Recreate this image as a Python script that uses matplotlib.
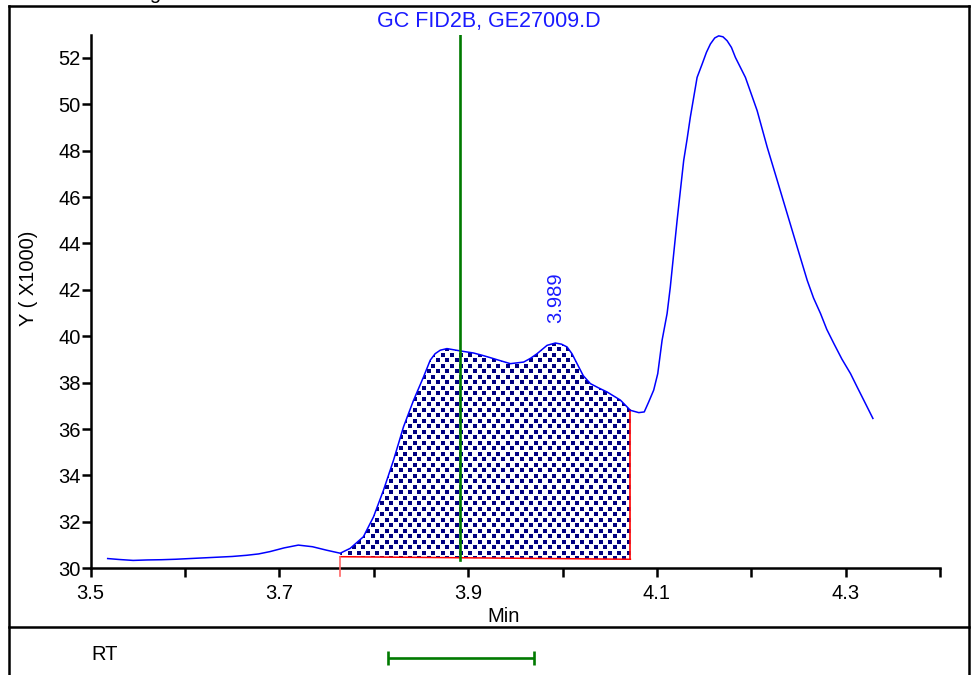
import numpy as np
import matplotlib.pyplot as plt
from matplotlib.lines import Line2D

plt.rcParams['font.family'] = ['Liberation Sans', 'DejaVu Sans']

# chromatogram trace (min, counts x1000)
time = [3.518, 3.530, 3.545, 3.560, 3.575, 3.590, 3.605, 3.620, 3.635, 3.650,
        3.665, 3.678, 3.690, 3.705, 3.720, 3.735, 3.750, 3.7644, 3.775, 3.789,
        3.7997, 3.8103, 3.8209, 3.8315, 3.8421, 3.8527, 3.8598, 3.8650, 3.8704,
        3.8775, 3.8916, 3.9057, 3.9150, 3.9234, 3.9340, 3.9447, 3.9588, 3.9660,
        3.973, 3.9836, 3.9924, 3.9990, 4.0048, 4.0100, 4.0154, 4.0220, 4.0295,
        4.0380, 4.0472, 4.0613, 4.0719, 4.0808, 4.0866, 4.0913, 4.0966, 4.1009,
        4.1055, 4.1108, 4.1142, 4.1178, 4.1214, 4.1249, 4.1284, 4.1320, 4.1354,
        4.1426, 4.148, 4.1525, 4.1567, 4.1613, 4.1655, 4.1700, 4.1744, 4.1790,
        4.1832, 4.1938, 4.2062, 4.2169, 4.2275, 4.2381, 4.2487, 4.2593, 4.2660,
        4.2734, 4.2800, 4.2875, 4.2960, 4.3052, 4.3120, 4.3193, 4.3289]
signal = [30.42, 30.38, 30.34, 30.36, 30.37, 30.39, 30.42, 30.45, 30.48, 30.51,
          30.56, 30.62, 30.72, 30.88, 31.00, 30.93, 30.78, 30.65, 30.86, 31.36,
          32.22, 33.37, 34.66, 36.10, 37.24, 38.25, 38.97, 39.25, 39.40,
          39.47, 39.37, 39.28, 39.18, 39.08, 38.95, 38.82, 38.89, 39.05,
          39.25, 39.61, 39.71, 39.66, 39.54, 39.25, 38.82, 38.30, 37.96,
          37.78, 37.60, 37.25, 36.81, 36.71, 36.74, 37.17, 37.68, 38.39,
          39.83, 40.98, 42.12, 43.56, 44.99, 46.29, 47.58, 48.50, 49.44,
          51.16, 51.74, 52.24, 52.60, 52.86, 52.95, 52.91, 52.74, 52.45,
          52.02, 51.16, 49.73, 48.15, 46.72, 45.28, 43.84, 42.41, 41.65,
          40.98, 40.30, 39.69, 39.02, 38.39, 37.83, 37.24, 36.46]

# integration baseline
bl_time = [3.7644, 4.0719]
bl_level = [30.50, 30.39]

rt_mark = 3.8916
rt_window = [3.8146, 3.9694]
peak_rt = 3.9924
peak_label = '3.989'
title = 'GC FID2B, GE27009.D'

xticks = [3.5, 3.6, 3.7, 3.8, 3.9, 4.0, 4.1, 4.2, 4.3, 4.4]
xticklabels = ['3.5', '', '3.7', '', '3.9', '', '4.1', '', '4.3', '']
yticks = list(range(30, 53, 2))

W, H = 971, 675
fig = plt.figure(figsize=(W / 100, H / 100), dpi=100)
left, right = 90.7 / W, 940 / W
ax = fig.add_axes([left, 1 - 568.3 / H, right - left, (568.3 - 34.7) / H])

t = np.array(time)
s = np.array(signal)
ax.plot(t, s, color='#0000ff', lw=1.1, zorder=4)

# dotted area under the integrated peak
sel = (t >= bl_time[0]) & (t <= bl_time[1])
px = list(t[sel]) + [bl_time[1], bl_time[0]]
py = list(s[sel]) + [bl_level[1], bl_level[0]]
poly = ax.fill(px, py, facecolor='white', edgecolor='none', zorder=1)[0]
dx, dy = 0.00986, 0.2368
gx, gy = [], []
for i, yy in enumerate(np.arange(30.2, 40.2, dy)):
    for xx in np.arange(bl_time[0] + (dx / 2 if i % 2 else 0), bl_time[1], dx):
        gx.append(xx)
        gy.append(yy)
dots = ax.scatter(gx, gy, marker='s', s=6.0, c='#000080', linewidths=0, zorder=2,
                  antialiased=False)
dots.set_clip_path(poly)

ax.plot(bl_time, bl_level, color='#ff0000', lw=1.1, zorder=3)
ax.plot([bl_time[1], bl_time[1]], [bl_level[1], s[sel][-1]], color='#ff0000', lw=1.2, zorder=3)
ax.plot([bl_time[0], bl_time[0]], [bl_level[0], 29.67], color='#ff6666', lw=1.2,
        zorder=3, clip_on=False)

ax.plot([rt_mark, rt_mark], [30.36, 53], color='#007a00', lw=1.9, zorder=5)

ax.text(peak_rt, 40.56, peak_label, rotation=90, ha='center', va='bottom',
        color='#1a1aff', fontsize=14.5)

ax.set_xlim(3.5, 4.4)
ax.set_ylim(30, 53)
ax.set_xticks(xticks)
ax.set_xticklabels(xticklabels)
ax.set_yticks(yticks)
for side in ['top', 'right']:
    ax.spines[side].set_visible(False)
for side in ['left', 'bottom']:
    ax.spines[side].set_linewidth(1.8)
ax.tick_params(axis='both', direction='out', length=6.5, width=1.8, labelsize=14.5)
ax.tick_params(axis='x', pad=5)
ax.tick_params(axis='y', pad=0.5)

fig.text(489 / W, 1 - 22 / H, title, ha='center', va='center', color='#1a1aff', fontsize=15.5)
fig.text(28 / W, 1 - 278 / H, 'Y ( X1000)', rotation=90, ha='center', va='center', fontsize=14.5)
fig.text(504 / W, 1 - 617 / H, 'Min', ha='center', va='center', fontsize=14.5)
fig.text(105 / W, 1 - 655 / H, 'RT', ha='center', va='center', fontsize=14.5)
fig.text(132 / W, 1 + 1 / H, 'Signal', ha='left', va='baseline', fontsize=14.5)

# outer frame and divider
frame = [([9, 9], [6, H]), ([969, 969], [6, H]), ([9, 969], [6, 6]), ([9, 969], [627, 627])]
for xs, ys in frame:
    fig.add_artist(Line2D([x / W for x in xs], [1 - y / H for y in ys],
                          transform=fig.transFigure, color='black', lw=1.8))

# RT panel
ax2 = fig.add_axes([left, 0, right - left, 1 - 627 / H])
ax2.set_xlim(3.5, 4.4)
ax2.set_ylim(0, 1)
ax2.axis('off')
ax2.errorbar([rt_mark], [0.36], xerr=[[rt_mark - rt_window[0]], [rt_window[1] - rt_mark]],
             fmt='none', ecolor='#007a00', elinewidth=1.9, capsize=4.7, capthick=1.9)

fig.savefig('out.png', dpi=100)
